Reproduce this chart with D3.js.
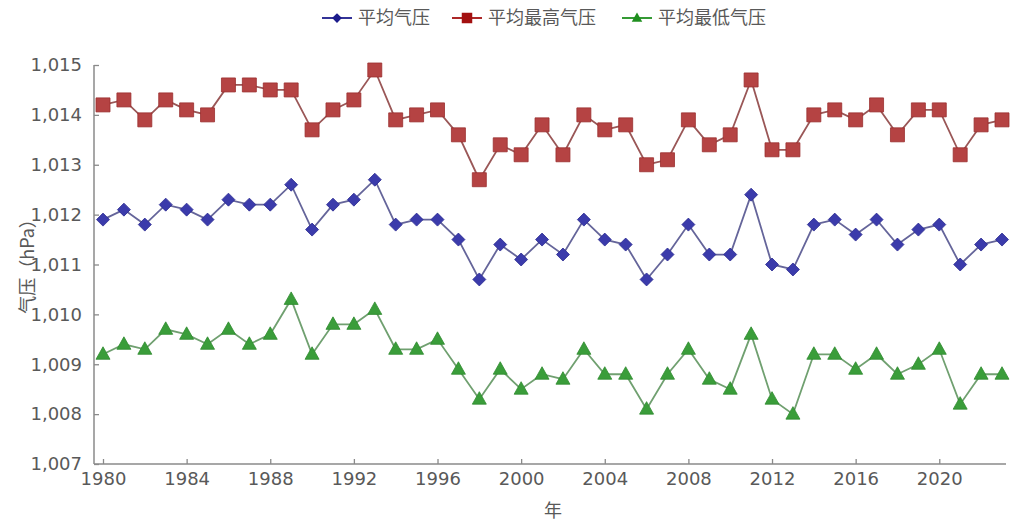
<!DOCTYPE html>
<html>
<head>
<meta charset="utf-8">
<script src="https://cdn.jsdelivr.net/npm/d3@7"></script>
<style>
  html, body { margin: 0; padding: 0; background: #fff; }
  svg { display: block; }
  text { font-family: "Noto Sans CJK SC", "Noto Sans", sans-serif; fill: #595959; }
</style>
</head>
<body>
<svg id="chart" width="1010" height="525"></svg>
<script>
const years = d3.range(1980, 2024);
const avgPressure = [1011.9,1012.1,1011.8,1012.2,1012.1,1011.9,1012.3,1012.2,1012.2,1012.6,1011.7,1012.2,1012.3,1012.7,1011.8,1011.9,1011.9,1011.5,1010.7,1011.4,1011.1,1011.5,1011.2,1011.9,1011.5,1011.4,1010.7,1011.2,1011.8,1011.2,1011.2,1012.4,1011.0,1010.9,1011.8,1011.9,1011.6,1011.9,1011.4,1011.7,1011.8,1011.0,1011.4,1011.5];
const maxPressure = [1014.2,1014.3,1013.9,1014.3,1014.1,1014.0,1014.6,1014.6,1014.5,1014.5,1013.7,1014.1,1014.3,1014.9,1013.9,1014.0,1014.1,1013.6,1012.7,1013.4,1013.2,1013.8,1013.2,1014.0,1013.7,1013.8,1013.0,1013.1,1013.9,1013.4,1013.6,1014.7,1013.3,1013.3,1014.0,1014.1,1013.9,1014.2,1013.6,1014.1,1014.1,1013.2,1013.8,1013.9];
const minPressure = [1009.2,1009.4,1009.3,1009.7,1009.6,1009.4,1009.7,1009.4,1009.6,1010.3,1009.2,1009.8,1009.8,1010.1,1009.3,1009.3,1009.5,1008.9,1008.3,1008.9,1008.5,1008.8,1008.7,1009.3,1008.8,1008.8,1008.1,1008.8,1009.3,1008.7,1008.5,1009.6,1008.3,1008.0,1009.2,1009.2,1008.9,1009.2,1008.8,1009.0,1009.3,1008.2,1008.8,1008.8];
const seriesNames = ["平均气压", "平均最高气压", "平均最低气压"];
const xTickValues = [1980,1984,1988,1992,1996,2000,2004,2008,2012,2016,2020];
const yTickValues = [1007,1008,1009,1010,1011,1012,1013,1014,1015];
const xTitle = "年";
const yTitle = "气压（hPa）";

const series = [
  {name: seriesNames[0], values: avgPressure, shape: "diamond", fill: "#3b3bab", stroke: "#2a2a90", line: "#65659a", legend: "#1c1c8c"},
  {name: seriesNames[1], values: maxPressure, shape: "square", fill: "#b54343", stroke: "#9a2e2e", line: "#9a5757", legend: "#a31010"},
  {name: seriesNames[2], values: minPressure, shape: "triangle", fill: "#3a9d3a", stroke: "#2e8a2e", line: "#70a070", legend: "#1f8f1f"}
];

const svg = d3.select("#chart");
const x = d3.scaleLinear().domain([1980, 2023]).range([103, 1002]);
const y = d3.scaleLinear().domain([1007, 1015]).range([464, 65]);
const axisLeft = 94, axisRight = 1006;
const numFont = "'DejaVu Sans', sans-serif";

function shapePath(shape) {
  if (shape === "square") return "M-7,-7H7V7H-7Z";
  if (shape === "diamond") return "M0,-6.5L6.5,0L0,6.5L-6.5,0Z";
  return "M0,-7.5L7,5L-7,5Z";
}

// Y axis
const yAxis = svg.append("g").attr("transform", `translate(${axisLeft},0)`)
  .call(d3.axisLeft(y).tickValues(yTickValues).tickSize(-5).tickPadding(12).tickFormat(d3.format(",")));
yAxis.select(".domain").attr("stroke", "#8a8a8a").attr("stroke-width", 1.5).attr("d", `M0,${y(1015)}V${y(1007)}`);
yAxis.selectAll(".tick line").attr("stroke", "#8a8a8a").attr("stroke-width", 1.3);
yAxis.selectAll(".tick text").attr("font-size", 18).attr("fill", "#595959")
  .style("font-family", numFont);

// X axis
const xAxis = svg.append("g").attr("transform", `translate(0,${y(1007)})`)
  .call(d3.axisBottom(x).tickValues(xTickValues).tickSize(-5).tickPadding(8).tickFormat(d3.format("d")));
xAxis.select(".domain").attr("stroke", "#8a8a8a").attr("stroke-width", 1.5).attr("d", `M${axisLeft},0H${axisRight}`);
xAxis.selectAll(".tick line").attr("stroke", "#8a8a8a").attr("stroke-width", 1.3);
xAxis.selectAll(".tick text").attr("font-size", 18).attr("fill", "#595959")
  .style("font-family", numFont);

// Axis titles
svg.append("text").attr("x", 553).attr("y", 517).attr("text-anchor", "middle")
  .attr("font-size", 18).text(xTitle);
svg.append("text").attr("transform", "translate(34,262) rotate(-90)").attr("text-anchor", "middle")
  .attr("font-size", 18).text(yTitle);

// Series
const line = d3.line().x((d, i) => x(years[i])).y(d => y(d));
series.forEach(s => {
  svg.append("path").attr("d", line(s.values)).attr("fill", "none")
    .attr("stroke", s.line).attr("stroke-width", 1.8);
  svg.append("g").selectAll("path").data(s.values).join("path")
    .attr("d", shapePath(s.shape))
    .attr("transform", (d, i) => `translate(${x(years[i])},${y(d)})`)
    .attr("fill", s.fill).attr("stroke", s.stroke).attr("stroke-width", 0.8);
});

// Legend
const legendX = [322, 452, 622];
series.forEach((s, i) => {
  const g = svg.append("g").attr("transform", `translate(${legendX[i]},18)`);
  g.append("line").attr("x1", 0).attr("x2", 30).attr("y1", 0).attr("y2", 0)
    .attr("stroke", s.legend).attr("stroke-width", 1.8);
  g.append("path").attr("d", shapePath(s.shape)).attr("transform", "translate(15,0) scale(0.75)")
    .attr("fill", s.legend);
  g.append("text").attr("x", 36).attr("y", 0).attr("dy", "0.35em").attr("font-size", 18).text(s.name);
});
</script>
</body>
</html>
